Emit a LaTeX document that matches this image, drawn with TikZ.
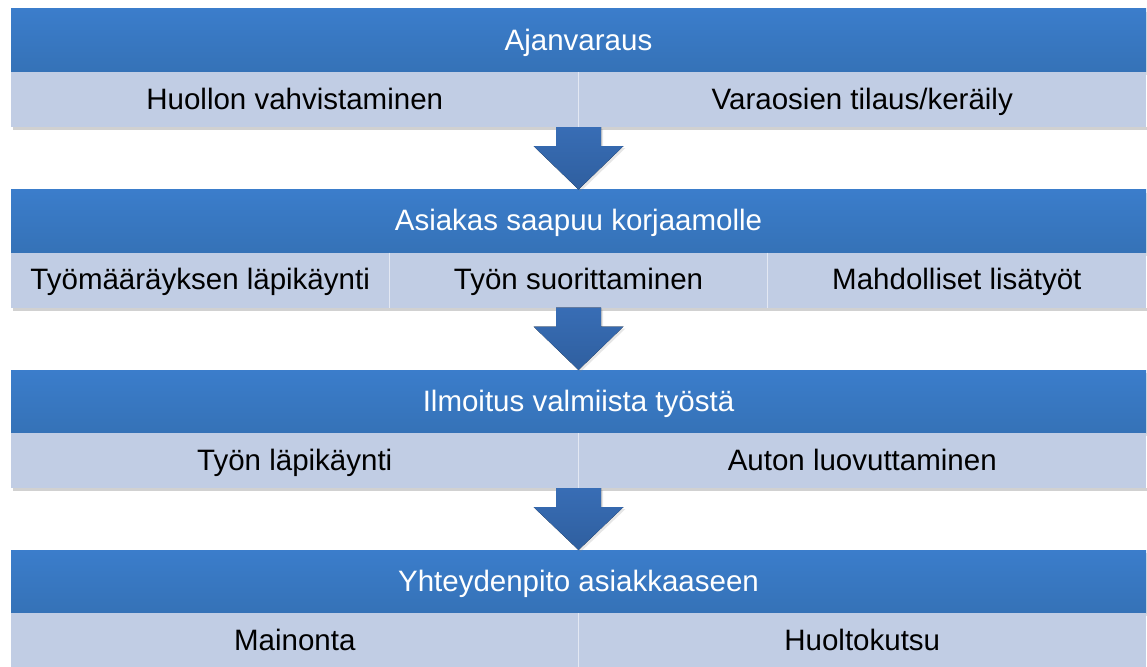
\documentclass[tikz,border=0pt]{standalone}
\usepackage{fontspec}
\setmainfont{Liberation Sans}
\usetikzlibrary{positioning,calc,shadows}
\definecolor{headblue}{HTML}{3B7DCB}
\definecolor{headdark}{HTML}{3572B7}
\definecolor{rowblue}{HTML}{C1CDE4}
\definecolor{arrowtop}{HTML}{386DB5}
\definecolor{arrowbot}{HTML}{2F5F9F}
\newcommand{\flowarrow}[2]{%
  \fill[flowarrowfill] ($(#1)+(-22.5,0)$) -- ($(#1)+(22.5,0)$) -- ($(#1)+(22.5,-19)$)
    -- ($(#1)+(45,-19)$) -- (#2) -- ($(#1)+(-45,-19)$) -- ($(#1)+(-22.5,-19)$) -- cycle;}

\begin{document}
\begin{tikzpicture}[x=1pt,y=1pt,
  every node/.style={font=\fontsize{29.5}{33}\selectfont,inner sep=0pt,outer sep=0pt,
    text height=20.5pt,text depth=1pt},
  headbox/.style={minimum width=1135pt,minimum height=63pt,top color=headblue,bottom color=headdark,text=white,
    drop shadow={shadow xshift=1pt,shadow yshift=-3pt,opacity=0.25}},
  cellhalf/.style={minimum width=567.5pt,minimum height=55pt,fill=rowblue,text=black},
  cellthird/.style={minimum width=378.33pt,minimum height=55pt,fill=rowblue,text=black},
  rowshade/.style={fill=black,opacity=0.18},
  divider/.style={draw=white!55!rowblue,line width=1.2pt},
  flowarrowfill/.style={top color=arrowtop,bottom color=arrowbot,
    drop shadow={shadow xshift=2pt,shadow yshift=-2pt,opacity=0.2}}]
  \useasboundingbox (0,0) rectangle (1147,-666);

  % row shadows
  \fill[rowshade] (13,-127) rectangle (1147,-130);
  \fill[rowshade] (13,-307.5) rectangle (1147,-310.5);
  \fill[rowshade] (13,-488) rectangle (1147,-491);

  % block 1
  \node[headbox] (h1) at (578.5,-40.5) {Ajanvaraus};
  \node[cellhalf,anchor=north west] (a1) at (h1.south west) {Huollon vahvistaminen};
  \node[cellhalf,right=0pt of a1] (a2) {Varaosien tilaus/keräily};
  \draw[divider] (a1.north east) -- (a1.south east);

  % block 2
  \node[headbox] (h2) at (578.5,-221) {Asiakas saapuu korjaamolle};
  \node[cellthird,anchor=north west] (b1) at (h2.south west) {Työmääräyksen läpikäynti};
  \node[cellthird,right=0pt of b1] (b2) {Työn suorittaminen};
  \node[cellthird,right=0pt of b2] (b3) {Mahdolliset lisätyöt};
  \draw[divider] (b1.north east) -- (b1.south east);
  \draw[divider] (b2.north east) -- (b2.south east);

  % block 3
  \node[headbox] (h3) at (578.5,-401.5) {Ilmoitus valmiista työstä};
  \node[cellhalf,anchor=north west] (c1) at (h3.south west) {Työn läpikäynti};
  \node[cellhalf,right=0pt of c1] (c2) {Auton luovuttaminen};
  \draw[divider] (c1.north east) -- (c1.south east);

  % block 4
  \node[headbox] (h4) at (578.5,-581.5) {Yhteydenpito asiakkaaseen};
  \node[cellhalf,anchor=north west] (d1) at (h4.south west) {Mainonta};
  \node[cellhalf,right=0pt of d1] (d2) {Huoltokutsu};
  \draw[divider] (d1.north east) -- (d1.south east);

  % arrows between blocks
  \coordinate (s1) at (h1.south |- a1.south);
  \coordinate (s2) at (h2.south |- b1.south);
  \coordinate (s3) at (h3.south |- c1.south);
  \flowarrow{s1}{h2.north}
  \flowarrow{s2}{h3.north}
  \flowarrow{s3}{h4.north}
\end{tikzpicture}
\end{document}
